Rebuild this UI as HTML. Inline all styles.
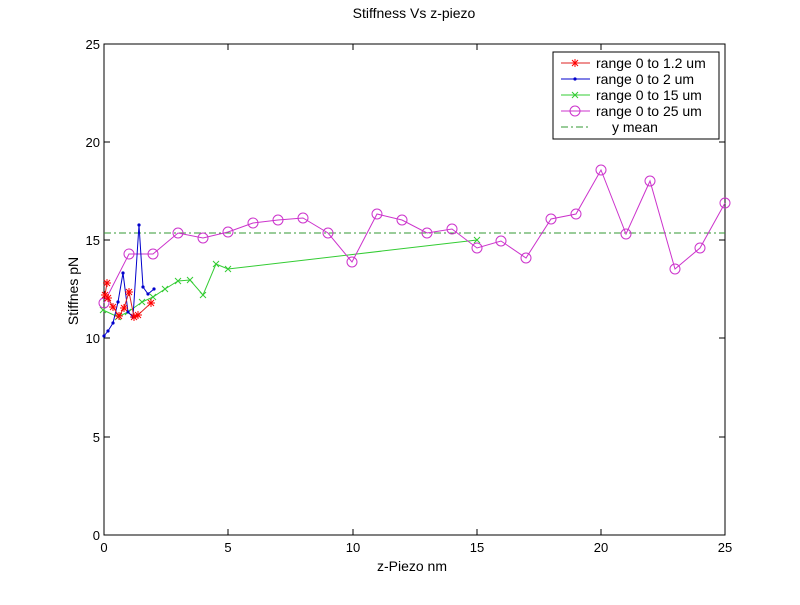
<!DOCTYPE html>
<html><head><style>body{margin:0;background:#fff}svg text{font-family:"Liberation Sans",sans-serif;font-size:13px}</style></head><body>
<svg width="800" height="600" viewBox="0 0 800 600" xmlns="http://www.w3.org/2000/svg">
<defs>
<g id="ast"><path d="M-4,0H4M0,-4V4M-3,-3L3,3M-3,3L3,-3" stroke="#f00" stroke-width="1" fill="none"/></g>
<g id="xm"><path d="M-3,-3L3,3M-3,3L3,-3" stroke="#3c3" stroke-width="1" fill="none"/></g>
<g id="dot"><circle r="1.6" fill="#00c"/></g>
<g id="circ"><circle r="5" stroke="#c3c" stroke-width="1" fill="none"/></g>
</defs>
<rect x="104" y="44" width="621" height="491" fill="#fff" stroke="#000" stroke-width="1"/>
<g stroke="#000" stroke-width="1">
<path d="M104,535v-6M104,44v6M228,535v-6M228,44v6M353,535v-6M353,44v6M477,535v-6M477,44v6M601,535v-6M601,44v6M725,535v-6M725,44v6"/>
<path d="M104,535h6M725,535h-6M104,437h6M725,437h-6M104,338h6M725,338h-6M104,240h6M725,240h-6M104,142h6M725,142h-6M104,44h6M725,44h-6"/>
</g>
<g text-anchor="middle">
<text x="104" y="552">0</text><text x="228" y="552">5</text><text x="353" y="552">10</text><text x="477" y="552">15</text><text x="601" y="552">20</text><text x="725" y="552">25</text>
</g>
<g text-anchor="end">
<text x="100" y="540">0</text><text x="100" y="442">5</text><text x="100" y="343">10</text><text x="100" y="245">15</text><text x="100" y="147">20</text><text x="100" y="49">25</text>
</g>
<g style="font-size:14px">
<text x="414" y="18" text-anchor="middle" style="font-size:14px">Stiffness Vs z-piezo</text>
<text x="412" y="571" text-anchor="middle" style="font-size:14px">z-Piezo nm</text>
<text transform="translate(78,291) rotate(-90)" text-anchor="middle" style="font-size:14px">Stiffnes pN</text>
</g>
<line x1="104" y1="233" x2="725" y2="233" stroke="#393" stroke-dasharray="7,3,2,3"/>
<polyline fill="none" stroke="#3c3" points="103,310 118,317 128,312 142,302 153,297 165,289 178,281 190,280 203,295 216,264 228,269 477,240"/>
<g><use href="#xm" x="103" y="310"/><use href="#xm" x="118" y="317"/><use href="#xm" x="128" y="312"/><use href="#xm" x="142" y="302"/><use href="#xm" x="153" y="297"/><use href="#xm" x="165" y="289"/><use href="#xm" x="178" y="281"/><use href="#xm" x="190" y="280"/><use href="#xm" x="203" y="295"/><use href="#xm" x="216" y="264"/><use href="#xm" x="228" y="269"/><use href="#xm" x="477" y="240"/></g>
<polyline fill="none" stroke="#c3c" points="104,303 129,254 153,254 178,233 203,238 228,232 253,223 278,220 303,218 328,233 352,262 377,214 402,220 427,233 452,229 477,248 501,241 526,258 551,219 576,214 601,170 626,234 650,181 675,269 700,248 725,203"/>
<g><use href="#circ" x="104" y="303"/><use href="#circ" x="129" y="254"/><use href="#circ" x="153" y="254"/><use href="#circ" x="178" y="233"/><use href="#circ" x="203" y="238"/><use href="#circ" x="228" y="232"/><use href="#circ" x="253" y="223"/><use href="#circ" x="278" y="220"/><use href="#circ" x="303" y="218"/><use href="#circ" x="328" y="233"/><use href="#circ" x="352" y="262"/><use href="#circ" x="377" y="214"/><use href="#circ" x="402" y="220"/><use href="#circ" x="427" y="233"/><use href="#circ" x="452" y="229"/><use href="#circ" x="477" y="248"/><use href="#circ" x="501" y="241"/><use href="#circ" x="526" y="258"/><use href="#circ" x="551" y="219"/><use href="#circ" x="576" y="214"/><use href="#circ" x="601" y="170"/><use href="#circ" x="626" y="234"/><use href="#circ" x="650" y="181"/><use href="#circ" x="675" y="269"/><use href="#circ" x="700" y="248"/><use href="#circ" x="725" y="203"/></g>
<polyline fill="none" stroke="#00c" points="104,336 108,331 113,323 118,302 123,273 128,312 133,317 139,225 143,287 148,294 154,289"/>
<g><use href="#dot" x="104" y="336"/><use href="#dot" x="108" y="331"/><use href="#dot" x="113" y="323"/><use href="#dot" x="118" y="302"/><use href="#dot" x="123" y="273"/><use href="#dot" x="128" y="312"/><use href="#dot" x="133" y="317"/><use href="#dot" x="139" y="225"/><use href="#dot" x="143" y="287"/><use href="#dot" x="148" y="294"/><use href="#dot" x="154" y="289"/></g>
<polyline fill="none" stroke="#d22" points="107,283 105,295 108,298 113,307 119,316 124,308 129,292 134,317 138,315 151,303"/>
<g><use href="#ast" x="107" y="283"/><use href="#ast" x="105" y="295"/><use href="#ast" x="108" y="298"/><use href="#ast" x="113" y="307"/><use href="#ast" x="119" y="316"/><use href="#ast" x="124" y="308"/><use href="#ast" x="129" y="292"/><use href="#ast" x="134" y="317"/><use href="#ast" x="138" y="315"/><use href="#ast" x="151" y="303"/></g>
<rect x="553" y="52" width="166" height="87" fill="#fff" stroke="#000"/>
<g style="font-size:14px">
<line x1="561" y1="63" x2="590" y2="63" stroke="#d22"/><use href="#ast" x="575" y="63"/><text x="596" y="68" style="font-size:14px">range 0 to 1.2 um</text>
<line x1="561" y1="79" x2="590" y2="79" stroke="#00c"/><use href="#dot" x="575" y="79"/><text x="596" y="84" style="font-size:14px">range 0 to 2 um</text>
<line x1="561" y1="95" x2="590" y2="95" stroke="#3c3"/><use href="#xm" x="575" y="95"/><text x="596" y="100" style="font-size:14px">range 0 to 15 um</text>
<line x1="561" y1="111" x2="590" y2="111" stroke="#c3c"/><use href="#circ" x="575" y="111"/><text x="596" y="116" style="font-size:14px">range 0 to 25 um</text>
<line x1="561" y1="127" x2="590" y2="127" stroke="#393" stroke-dasharray="7,3,2,3"/><text x="612" y="132" style="font-size:14px">y mean</text>
</g>
</svg>
</body></html>
